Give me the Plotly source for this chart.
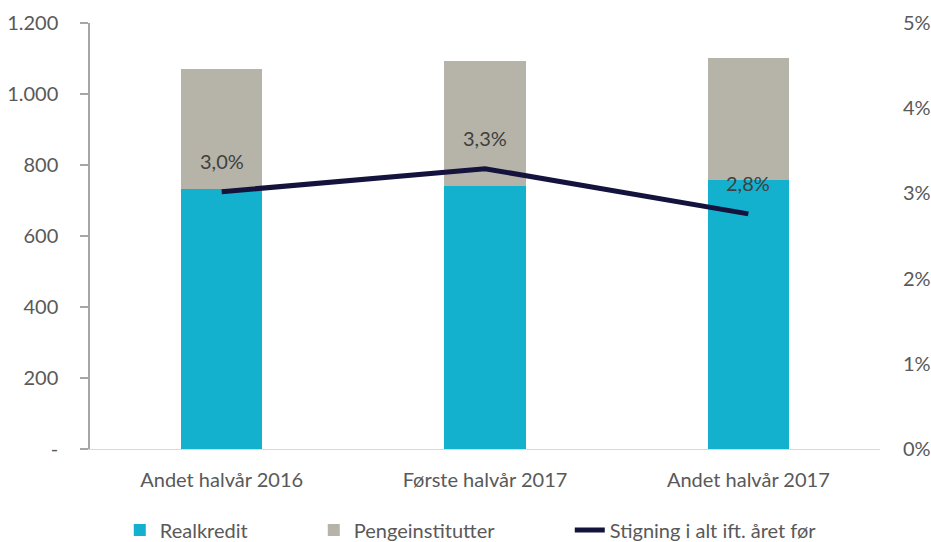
import plotly.graph_objects as go

categories = ["Andet halvår 2016", "Første halvår 2017", "Andet halvår 2017"]
realkredit = [732, 741, 758]
pengeinstitutter = [338, 352, 343]
stigning = [0.0302, 0.0329, 0.0276]
stigning_labels = ["3,0%", "3,3%", "2,8%"]

left_tickvals = [0, 200, 400, 600, 800, 1000, 1200]
left_ticktext = ["-", "200", "400", "600", "800", "1.000", "1.200"]
right_tickvals = [0, 0.01, 0.02, 0.03, 0.04, 0.05]
right_ticktext = ["0%", "1%", "2%", "3%", "4%", "5%"]

FONT = "Lato"
TXT = "#595959"
FS = 20

fig = go.Figure()
fig.add_trace(go.Bar(x=categories, y=realkredit, name="Realkredit", legendwidth=149,
                     marker=dict(color="#13b1ce", line=dict(width=0))))
fig.add_trace(go.Bar(x=categories, y=pengeinstitutter, name="Pengeinstitutter", legendwidth=211,
                     marker=dict(color="#b6b4a9", line=dict(width=0))))
fig.add_trace(go.Scatter(x=categories, y=stigning, name="Stigning i alt ift. året før",
                         mode="lines", yaxis="y2",
                         line=dict(color="#13133d", width=5)))

for c, v, t in zip(categories, stigning, stigning_labels):
    fig.add_annotation(x=c, y=v, yref="y2", xref="x", text=t, showarrow=False,
                       yshift=31, font=dict(family=FONT, size=FS, color="#404040"))

fig.update_layout(
    width=931, height=542,
    margin=dict(l=90, r=51, t=23, b=93, autoexpand=False),
    plot_bgcolor="white", paper_bgcolor="white",
    barmode="stack", bargap=0.69,
    font=dict(family=FONT, size=FS, color=TXT),
    showlegend=True,
    legend=dict(orientation="h", x=0.482, xanchor="center", y=-0.19, yanchor="middle",
                font=dict(family=FONT, size=FS, color=TXT), traceorder="normal"),
    xaxis=dict(showline=True, linecolor="#d9d9d9", linewidth=1, ticks="",
               showgrid=False, ticklabelstandoff=13, automargin=False,
               tickfont=dict(family=FONT, size=FS, color=TXT)),
    yaxis=dict(range=[0, 1200], tickvals=left_tickvals, ticktext=left_ticktext,
               showline=True, linecolor="#a6a6a6", linewidth=1.5,
               ticks="outside", ticklen=8, tickcolor="#a6a6a6", tickwidth=1.5,
               showgrid=False, zeroline=False, ticklabelstandoff=18, automargin=False,
               tickfont=dict(family=FONT, size=FS, color=TXT)),
    yaxis2=dict(range=[0, 0.05], tickvals=right_tickvals, ticktext=right_ticktext,
                overlaying="y", side="right", showline=False, showgrid=False,
                zeroline=False, ticks="", ticklabelstandoff=22, automargin=False,
                tickfont=dict(family=FONT, size=FS, color=TXT)),
)

fig.write_html("out.html", config={"displayModeBar": False},
               post_script="document.body.style.margin='0';document.body.style.padding='0';")
